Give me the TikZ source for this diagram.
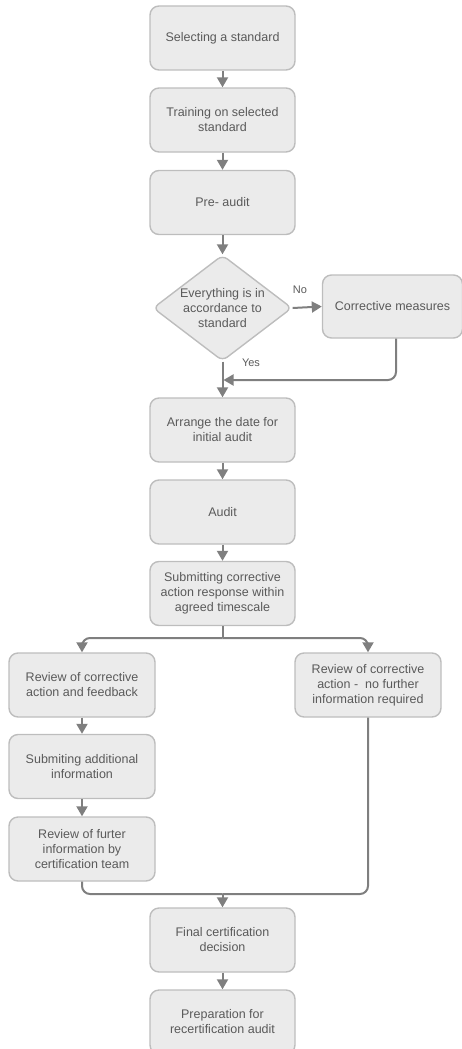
\documentclass[tikz,border=0pt]{standalone}
\usepackage{fontspec}
\setmainfont{Liberation Sans}
\usetikzlibrary{shapes.geometric,arrows.meta}
\definecolor{boxfill}{HTML}{EBEBEB}
\definecolor{boxline}{HTML}{BDBDBD}
\definecolor{boxtext}{HTML}{5A5A5A}
\definecolor{flow}{HTML}{7F7F7F}
\begin{document}
\begin{tikzpicture}[x=1pt,y=-1pt,
  stepbox/.style={draw=boxline,fill=boxfill,line width=1.4pt,rounded corners=9pt,
    minimum width=145pt,minimum height=64pt,inner sep=0pt,align=center,
    text=boxtext,font=\fontsize{12.5}{15}\selectfont},
  decision/.style={draw=boxline,fill=boxfill,line width=1.4pt,shape=diamond,
    rounded corners=6pt,minimum width=139pt,minimum height=106pt,inner sep=0pt},
  plain/.style={text=boxtext,align=center,font=\fontsize{12.5}{15}\selectfont,inner sep=0pt},
  small/.style={text=boxtext,font=\fontsize{11}{13}\selectfont,inner sep=0pt},
  flowline/.style={draw=flow,line width=2pt,rounded corners=8pt},
  flowarrow/.style={flowline,-{Triangle[width=11pt,length=10pt]}}]
\useasboundingbox (0,0) rectangle (462,1049);
\clip (0,0) rectangle (462,1049);

% main column
\node[stepbox] (b1) at (222.5,38) {Selecting a standard};
\node[stepbox] (b2) at (222.5,120) {Training on selected\\standard};
\node[stepbox] (b3) at (222.5,202.5) {Pre- audit};
\node[decision] (d) at (222.5,308) {};
\node[plain] (dtext) at (222.5,308) {Everything is in\\accordance to\\standard};
\node[stepbox,minimum width=140pt,minimum height=63pt] (cm) at (392.5,306.5) {Corrective measures};
\node[stepbox] (b4) at (222.5,430) {Arrange the date for\\initial audit};
\node[stepbox] (b5) at (222.5,512) {Audit};
\node[stepbox] (b6) at (222.5,593.5) {Submitting corrective\\action response within\\agreed timescale};

% two branches
\node[stepbox,minimum width=146pt] (b7) at (82,685) {Review of corrective\\action and feedback};
\node[stepbox,minimum width=146pt] (b8) at (368,685) {Review of corrective\\action -\ \ no further\\information required};
\node[stepbox,minimum width=146pt] (b9) at (82,766.5) {Submiting additional\\information};
\node[stepbox,minimum width=146pt] (b10) at (82,849) {Review of furter\\information by\\certification team};

% closing steps
\node[stepbox] (b11) at (222.5,940) {Final certification\\decision};
\node[stepbox] (b12) at (222.5,1022) {Preparation for\\recertification audit};

% junction points
\coordinate (back) at (223.5,380);
\coordinate (split) at (222.5,638);
\coordinate (merge) at (222.5,894);

% connectors
\draw[flowarrow] (b1) -- (b2);
\draw[flowarrow] (b2) -- (b3);
\draw[flowarrow] (b3) -- (d);
\draw[flowarrow] (d.east) -- (cm.west);
\node[small] (no) at (300,290) {No};
\draw[flowarrow] (d.south) -- (b4.north);
\node[small] (yes) at (251,363) {Yes};
\draw[flowarrow,rounded corners=8pt] (cm.south -| 396,0) |- (back);
\draw[flowarrow] (b4) -- (b5);
\draw[flowarrow] (b5) -- (b6);
\draw[flowline] (b6.south) -- (split);
\draw[flowarrow] (split) -| (b7.north);
\draw[flowarrow] (split) -| (b8.north);
\draw[flowarrow] (b7) -- (b9);
\draw[flowarrow] (b9) -- (b10);
\draw[flowline] (b10.south) |- (merge);
\draw[flowline] (b8.south) |- (merge);
\draw[flowarrow] (merge) -- (b11.north);
\draw[flowarrow] (b11) -- (b12);
\end{tikzpicture}
\end{document}
